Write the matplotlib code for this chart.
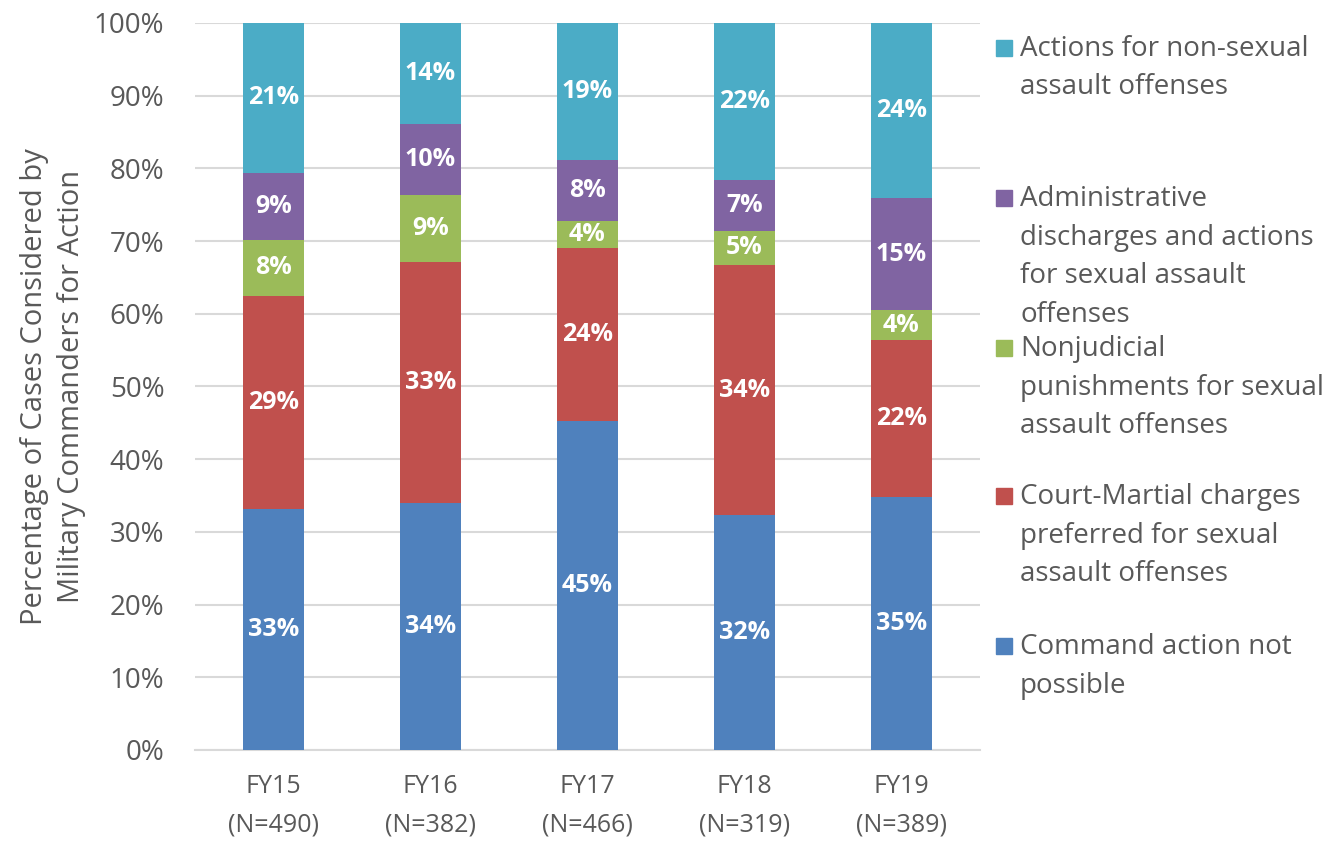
import matplotlib.pyplot as plt
from matplotlib.patches import Rectangle
import numpy as np

# 数据
years = ['FY15\n(N=490)', 'FY16\n(N=382)', 'FY17\n(N=466)', 'FY18\n(N=319)', 'FY19\n(N=389)']
not_possible = [33.1, 34.0, 45.3, 32.3, 34.8]
court_martial = [29.3, 33.1, 23.8, 34.4, 21.6]
nonjudicial = [7.8, 9.2, 3.7, 4.7, 4.1]
admin = [9.2, 9.8, 8.4, 7.0, 15.4]
non_sexual = [20.6, 13.9, 18.8, 21.6, 24.1]
labels_pct = [
    ['33%', '34%', '45%', '32%', '35%'],
    ['29%', '33%', '24%', '34%', '22%'],
    ['8%', '9%', '4%', '5%', '4%'],
    ['9%', '10%', '8%', '7%', '15%'],
    ['21%', '14%', '19%', '22%', '24%'],
]
series_names = [
    'Command action not\npossible',
    'Court-Martial charges\npreferred for sexual\nassault offenses',
    'Nonjudicial\npunishments for sexual\nassault offenses',
    'Administrative\ndischarges and actions\nfor sexual assault\noffenses',
    'Actions for non-sexual\nassault offenses',
]
colors = ['#4F81BD', '#C0504D', '#9BBB59', '#8064A2', '#4BACC6']

plt.rcParams['font.family'] = ['Open Sans', 'DejaVu Sans']
text_color = '#595959'

fig = plt.figure(figsize=(13.4, 8.48), dpi=100)
ax = fig.add_axes([0.1455, 0.1156, 0.5858, 0.8573])

series = [not_possible, court_martial, nonjudicial, admin, non_sexual]
x = np.arange(len(years))
bottom = np.zeros(len(years))
for vals, col, labs in zip(series, colors, labels_pct):
    vals = np.array(vals)
    ax.bar(x, vals, 0.39, bottom=bottom, color=col, zorder=3)
    for xi, b, v, lab in zip(x, bottom, vals, labs):
        ax.text(xi, b + v / 2, lab, ha='center', va='center', color='white',
                fontsize=18, fontweight='bold', zorder=4)
    bottom += vals

ax.set_xlim(-0.5, 4.5)
ax.set_ylim(0, 100)
ax.set_yticks(np.arange(0, 101, 10))
ax.set_yticklabels([f'{v}%' for v in range(0, 101, 10)], fontsize=20, color=text_color)
ax.set_xticks(x)
ax.set_xticklabels(years, fontsize=18, color=text_color, linespacing=1.75)
ax.tick_params(axis='both', length=0)
ax.tick_params(axis='x', pad=17)
ax.tick_params(axis='y', pad=22)
ax.grid(axis='y', color='#D9D9D9', linewidth=1.5, zorder=0)
for s in ['top', 'right', 'left']:
    ax.spines[s].set_visible(False)
ax.spines['bottom'].set_color('#D9D9D9')
ax.spines['bottom'].set_linewidth(1.5)
ax.set_ylabel('Percentage of Cases Considered by\nMilitary Commanders for Action',
              fontsize=21, color=text_color, labelpad=6, linespacing=1.35)

# 图例（手动绘制）
W, H = 1340, 848
centers = [645, 495, 347, 197, 47]
for c, col, name in zip(centers, colors, series_names):
    fig.patches.append(Rectangle((996 / W, 1 - (c + 9) / H), 16 / W, 16 / H,
                                 transform=fig.transFigure, color=col))
    fig.text(1020 / W, 1 - (c - 12) / H, name, fontsize=20, color=text_color,
             va='top', ha='left', linespacing=1.5)

fig.savefig('out.png', dpi=100)
